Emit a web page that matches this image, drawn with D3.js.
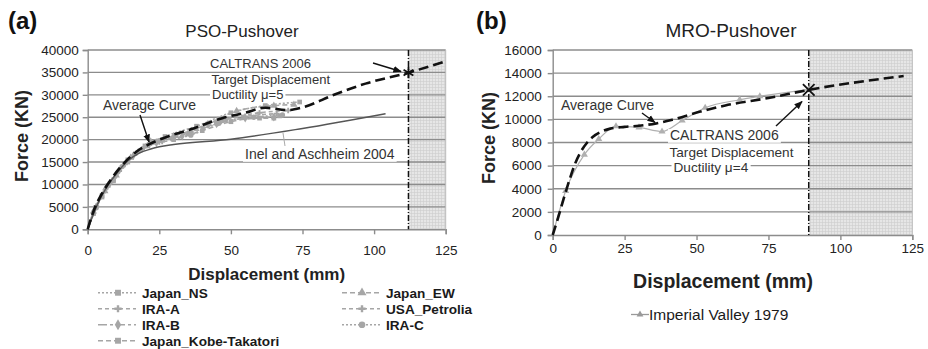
<!DOCTYPE html>
<html>
<head>
<meta charset="utf-8">
<script src="https://cdn.jsdelivr.net/npm/d3@7"></script>
<style>
  body { margin: 0; background: #fff; }
  svg { display: block; font-family: Arial, "Liberation Sans", sans-serif; }
</style>
</head>
<body>
<div id="chart"></div>
<script>
// ---------- data ----------
const dispTicks = [0, 25, 50, 75, 100, 125];
const forceTicksA = [0, 5000, 10000, 15000, 20000, 25000, 30000, 35000, 40000];
const forceTicksB = [0, 2000, 4000, 6000, 8000, 10000, 12000, 14000, 16000];

// (a) PSO-Pushover
const avgAX = [0, 2, 5, 8, 13, 17, 21.5, 28, 36, 47, 55, 62, 70, 75, 86, 97, 112, 125];
const avgAY = [0, 4000, 8000, 11000, 15000, 17300, 19000, 20700, 22300, 24800, 26000, 27100, 26600, 27200, 30000, 32500, 34950, 37500];
const inelX = [0, 3, 7, 10, 14, 18, 22, 25, 30, 50, 75, 104];
const inelY = [0, 5000, 9800, 12400, 15300, 17000, 17900, 18400, 18900, 20100, 22500, 25800];

const japanNsX = [0, 2, 5, 9, 14, 20, 27, 38, 50, 62, 74];
const japanNsY = [0, 3500, 7500, 11000, 15500, 18600, 20700, 23000, 26000, 27600, 28400];
const japanEwX = [0, 2, 6, 10, 15, 22, 30, 42, 52, 65, 72];
const japanEwY = [0, 4000, 8500, 12000, 16000, 19600, 20800, 23500, 26400, 27600, 27800];
const iraAX = [0, 3, 7, 11, 17, 25, 35, 45, 55, 66];
const iraAY = [0, 5000, 9500, 13000, 17000, 19500, 21400, 24000, 25200, 25800];
const petroliaX = [0, 3, 8, 13, 19, 26, 36, 48, 60, 70];
const petroliaY = [0, 5200, 10500, 14500, 17800, 19600, 21800, 24500, 26000, 26500];
const iraBX = [0, 2, 6, 10, 16, 24, 33, 45, 55, 65];
const iraBY = [0, 3800, 8800, 12200, 16500, 19300, 20800, 23500, 24800, 25000];
const iraCX = [0, 3, 7, 12, 18, 25, 36, 46, 58, 68];
const iraCY = [0, 4800, 9800, 14000, 17500, 19800, 21000, 23800, 25000, 25500];
const kobeX = [0, 2, 5, 9, 14, 21, 30, 40, 50, 60, 65, 67];
const kobeY = [0, 3600, 7200, 10800, 15000, 18600, 20000, 22000, 24000, 24800, 24800, 25300];

const targetA = 112;   // CALTRANS target displacement (mm), ductility 5
const targetAForce = 34950;

// (b) MRO-Pushover
const avgBX = [0, 2, 4, 6, 8, 10, 12, 14, 17, 20, 25, 30, 36, 42, 51, 60, 75, 89, 122];
const avgBY = [0, 1600, 3300, 4900, 6300, 7300, 8000, 8500, 8950, 9200, 9350, 9450, 9650, 10000, 10650, 11200, 11850, 12550, 13750];
const imperialX = [0, 4.5, 11, 16, 22, 30, 38, 45, 53, 65, 72, 89];
const imperialY = [0, 3800, 6950, 8300, 9400, 9300, 8950, 9900, 11000, 11700, 12000, 12600];

const targetB = 89;    // ductility 4
const targetBForce = 12550;

// ---------- drawing ----------
const width = 928, height = 349;
const svg = d3.select("#chart").append("svg")
  .attr("width", width).attr("height", height);

const defs = svg.append("defs");
const pat = defs.append("pattern").attr("id", "shade")
  .attr("width", 3).attr("height", 3).attr("patternUnits", "userSpaceOnUse");
pat.append("rect").attr("width", 3).attr("height", 3).attr("fill", "#e6e6e6");
pat.append("path").attr("d", "M0,0.5H3M0.5,0V3").attr("stroke", "#cdcdcd").attr("stroke-width", 0.6);

defs.append("marker").attr("id", "arrow")
  .attr("viewBox", "0 0 10 10").attr("refX", 9).attr("refY", 5)
  .attr("markerWidth", 6).attr("markerHeight", 6).attr("orient", "auto")
  .append("path").attr("d", "M0,1L10,5L0,9z").attr("fill", "#111");

const grey = "#a6a6a6";

// label with a tight white box behind it (hides the grid under the text)
function boxedText(g, x, y, str, size) {
  const t = g.append("text").attr("x", x).attr("y", y)
    .attr("font-size", size).attr("fill", "#333").text(str);
  const b = t.node().getBBox();
  g.insert("rect", () => t.node())
    .attr("x", b.x - 2).attr("y", y - size * 0.78).attr("width", b.width + 4).attr("height", size * 0.98)
    .attr("fill", "#fff");
  return t;
}

function drawPanel(o) {
  const x = d3.scaleLinear().domain([0, 125]).range([o.left, o.right]);
  const y = d3.scaleLinear().domain([0, o.yMax]).range([o.bottom, o.top]);
  const g = svg.append("g");

  // shaded beyond target displacement
  g.append("rect")
    .attr("x", x(o.target)).attr("y", y(o.yMax))
    .attr("width", x(125) - x(o.target)).attr("height", y(0) - y(o.yMax))
    .attr("fill", "url(#shade)");

  // horizontal grid
  g.append("g").selectAll("line").data(o.yTicks.slice(1)).join("line")
    .attr("x1", x(0)).attr("x2", x(125))
    .attr("y1", (d) => y(d)).attr("y2", (d) => y(d))
    .attr("stroke", "#8c8c8c").attr("stroke-width", 1.4);

  // axes
  const ya = g.append("g").attr("transform", `translate(${x(0)},0)`)
    .call(d3.axisLeft(y).tickValues(o.yTicks).tickSize(5).tickPadding(o.yPad).tickFormat(d3.format("d")));
  const xa = g.append("g").attr("transform", `translate(0,${y(0)})`)
    .call(d3.axisBottom(x).tickValues(dispTicks).tickSize(5).tickPadding(o.xPad));
  [ya, xa].forEach((a) => {
    a.selectAll("path, line").attr("stroke", "#8c8c8c").attr("stroke-width", 1.4);
    a.selectAll("text").attr("font-size", 13.5).attr("fill", "#222")
      .attr("font-family", "Arial, 'Liberation Sans', sans-serif");
  });
  g.append("line").attr("x1", x(125)).attr("x2", x(125))
    .attr("y1", y(o.yMax)).attr("y2", y(0)).attr("stroke", "#bbb");

  // target line
  g.append("line").attr("x1", x(o.target)).attr("x2", x(o.target))
    .attr("y1", y(o.yMax)).attr("y2", y(0))
    .attr("stroke", "#111").attr("stroke-width", 1.5).attr("stroke-dasharray", "6,2,1,2");

  const line = d3.line().x((d) => x(d[0])).y((d) => y(d[1])).curve(d3.curveMonotoneX);

  // record series
  o.series.forEach((s) => {
    const pts = s.x.map((v, i) => [v, s.y[i]]);
    g.append("path").datum(pts).attr("d", line)
      .attr("fill", "none").attr("stroke", s.color || grey).attr("stroke-width", s.width || 1.6)
      .attr("stroke-dasharray", s.dash);
    g.append("g").selectAll("path").data(pts.slice(1)).join("path")
      .attr("transform", (d) => `translate(${x(d[0])},${y(d[1])})`)
      .attr("d", d3.symbol().type(s.symbol).size(s.size || 22))
      .attr("fill", s.color || grey);
  });

  // reference curves
  o.refs.forEach((r) => {
    const pts = r.x.map((v, i) => [v, r.y[i]]);
    g.append("path").datum(pts).attr("d", line)
      .attr("fill", "none").attr("stroke", r.color).attr("stroke-width", r.width)
      .attr("stroke-dasharray", r.dash);
  });

  // target point
  const cross = d3.symbolTimes || d3.symbolCross;
  g.append("path")
    .attr("transform", `translate(${x(o.target)},${y(o.targetForce)})`)
    .attr("d", d3.symbol().type(o.star ? (d3.symbolAsterisk || cross) : cross).size(90))
    .attr("fill", "none").attr("stroke", "#111").attr("stroke-width", 1.8);

  // annotations
  const ann = svg.append("g");
  o.notes.forEach((n) => boxedText(ann, n[0], n[1], n[2], n[3]));
  o.arrows.forEach((a) => {
    ann.append("line").attr("x1", a[0]).attr("y1", a[1]).attr("x2", a[2]).attr("y2", a[3])
      .attr("stroke", "#111").attr("stroke-width", 1.4).attr("marker-end", "url(#arrow)");
  });

  // titles
  svg.append("text").attr("x", o.tagX).attr("y", 29).attr("font-size", 24)
    .attr("font-weight", "bold").attr("fill", "#111").text(o.tag);
  svg.append("text").attr("x", o.titleX).attr("y", 37).attr("text-anchor", "middle")
    .attr("font-size", o.titleSize).attr("fill", "#222").text(o.title);
  svg.append("text").attr("transform", `translate(${o.yLabelX},${o.yLabelY}) rotate(-90)`)
    .attr("text-anchor", "middle").attr("font-size", 18).attr("font-weight", "bold")
    .attr("fill", "#222").text("Force (KN)");
  svg.append("text").attr("x", o.xLabelX).attr("y", o.xLabelY).attr("text-anchor", "middle")
    .attr("font-size", o.xLabelSize).attr("font-weight", "bold").attr("fill", "#222")
    .text("Displacement (mm)");

  return { x, y };
}

const seriesA = [
  { name: "Japan_NS", x: japanNsX, y: japanNsY, dash: "2,2", symbol: d3.symbolSquare },
  { name: "IRA-A", x: iraAX, y: iraAY, dash: "4,3", symbol: d3.symbolCross, size: 18 },
  { name: "IRA-B", x: iraBX, y: iraBY, dash: "9,3,3,3", symbol: d3.symbolDiamond },
  { name: "Japan_Kobe-Takatori", x: kobeX, y: kobeY, dash: "5,3", symbol: d3.symbolSquare },
  { name: "Japan_EW", x: japanEwX, y: japanEwY, dash: "5,3", symbol: d3.symbolTriangle },
  { name: "USA_Petrolia", x: petroliaX, y: petroliaY, dash: "4,3", symbol: d3.symbolCross, size: 18 },
  { name: "IRA-C", x: iraCX, y: iraCY, dash: "2,2", symbol: d3.symbolCircle },
];

drawPanel({
  left: 87.7, right: 445.7, top: 50, bottom: 229.3,
  yMax: 40000, yTicks: forceTicksA, yPad: 4, xPad: 11,
  target: targetA, targetForce: targetAForce, star: true,
  series: seriesA,
  refs: [
    { x: inelX, y: inelY, color: "#555", width: 1.5 },
    { x: avgAX, y: avgAY, color: "#111", width: 2.6, dash: "10,5" },
  ],
  notes: [
    [210, 67.5, "CALTRANS 2006", 13],
    [211.5, 84, "Target Displacement", 13],
    [212, 98.5, "Ductility \u03bc=5", 13],
    [103, 110, "Average Curve", 14],
    [245, 159, "Inel and Aschheim 2004", 14],
  ],
  arrows: [
    [140, 115, 149, 142],
    [373, 63, 401, 71.5],
  ],
  tag: "(a)", tagX: 8,
  title: "PSO-Pushover", titleX: 242, titleSize: 17,
  yLabelX: 27.5, yLabelY: 136,
  xLabelX: 266.7, xLabelY: 280, xLabelSize: 17,
});
// leader line for Inel and Aschheim
svg.append("line").attr("x1", 283).attr("y1", 133).attr("x2", 285).attr("y2", 146)
  .attr("stroke", "#aaa").attr("stroke-width", 1);

drawPanel({
  left: 552.7, right: 912.3, top: 50, bottom: 235,
  yMax: 16000, yTicks: forceTicksB, yPad: 6, xPad: 3.5,
  target: targetB, targetForce: targetBForce, star: false,
  series: [
    { name: "Imperial Valley 1979", x: imperialX, y: imperialY, dash: null, symbol: d3.symbolTriangle, width: 1.2, color: "#b0b0b0" },
  ],
  refs: [
    { x: avgBX, y: avgBY, color: "#111", width: 2.6, dash: "10,5" },
  ],
  notes: [
    [561, 110, "Average Curve", 14],
    [670, 140, "CALTRANS 2006", 14],
    [669.5, 156.5, "Target Displacement", 13.6],
    [673.5, 171.5, "Ductility \u03bc=4", 13.6],
  ],
  arrows: [
    [642, 113, 655, 122.5],
    [776, 126, 802, 101.5],
  ],
  tag: "(b)", tagX: 476,
  title: "MRO-Pushover", titleX: 731, titleSize: 19,
  yLabelX: 495, yLabelY: 138,
  xLabelX: 723, xLabelY: 288, xLabelSize: 19.5,
});

// ---------- legends ----------
function legendItem(g, s, x0, yBase, textSize, bold) {
  const cy = yBase - textSize * 0.35;
  g.append("line").attr("x1", x0).attr("x2", x0 + 38).attr("y1", cy).attr("y2", cy)
    .attr("stroke", s.color || grey).attr("stroke-width", s.width || 1.6).attr("stroke-dasharray", s.dash);
  g.append("path").attr("transform", `translate(${x0 + 20},${cy})`)
    .attr("d", d3.symbol().type(s.symbol).size((s.size || 22) * 1.6))
    .attr("fill", s.color || grey);
  g.append("text").attr("x", x0 + 44).attr("y", yBase)
    .attr("font-size", textSize).attr("font-weight", bold ? "bold" : "normal")
    .attr("fill", "#1a1a1a").text(s.name);
}

const legA = svg.append("g");
seriesA.forEach((s, i) => {
  const col = i < 4 ? 0 : 1;
  const row = col === 0 ? i : i - 4;
  legendItem(legA, s, col === 0 ? 98 : 342, 297.5 + row * 16, 13.6, true);
});

const legB = svg.append("g");
legB.append("line").attr("x1", 631).attr("x2", 649).attr("y1", 314.5).attr("y2", 314.5)
  .attr("stroke", "#999").attr("stroke-width", 1.3);
legB.append("path").attr("transform", "translate(640,314.5)")
  .attr("d", d3.symbol().type(d3.symbolTriangle).size(20)).attr("fill", "#999");
legB.append("text").attr("x", 649).attr("y", 320).attr("font-size", 15.5)
  .attr("fill", "#1a1a1a").text("Imperial Valley 1979");
</script>
</body>
</html>
